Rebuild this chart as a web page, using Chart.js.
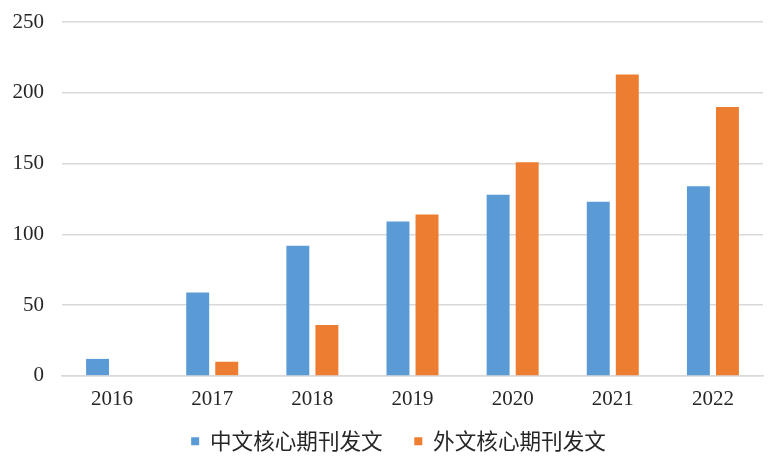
<!DOCTYPE html>
<html>
<head>
<meta charset="utf-8">
<script src="https://cdn.jsdelivr.net/npm/chart.js@4/dist/chart.umd.min.js"></script>
<style>
  html, body { margin: 0; padding: 0; background: #fff; }
  #wrap { width: 784px; height: 462px; }
</style>
</head>
<body>
<div id="wrap"><canvas id="chart"></canvas></div>
<script>
const years = ['2016', '2017', '2018', '2019', '2020', '2021', '2022'];
const cnCore = [12, 59, 92, 109, 128, 123, 134];
const enCore = [0, 10, 36, 114, 151, 213, 190];
const yTicks = [0, 50, 100, 150, 200, 250];

const serif = "'Liberation Serif', 'Noto Sans CJK SC', serif";

// nudge the legend a little to the right, like the original
const legendShift = {
    id: 'legendShift',
    afterLayout(chart) {
        chart.legend.left += 11;
        chart.legend.right += 11;
    }
};

new Chart(document.getElementById('chart'), {
    type: 'bar',
    data: {
        labels: years,
        datasets: [{
            label: '中文核心期刊发文',
            data: cnCore,
            backgroundColor: '#5b9bd5'
        }, {
            label: '外文核心期刊发文',
            data: enCore,
            backgroundColor: '#ed7d31'
        }]
    },
    options: {
        responsive: true,
        maintainAspectRatio: false,
        animation: false,
        categoryPercentage: 0.58,
        barPercentage: 0.79,
        layout: { padding: { left: 12, right: 21, top: 22, bottom: 0 } },
        plugins: {
            tooltip: { enabled: false },
            legend: {
                position: 'bottom',
                labels: {
                    boxWidth: 8,
                    boxHeight: 8,
                    padding: 10,
                    color: '#262626',
                    font: { family: "'Noto Sans CJK SC', sans-serif", size: 21.6 },
                    // extra space between the two legend items
                    generateLabels: chart => {
                        const items = Chart.defaults.plugins.legend.labels.generateLabels(chart);
                        items.forEach((it, i) => { if (i < items.length - 1) it.text += '\u3000'; });
                        return items;
                    }
                }
            }
        },
        scales: {
            x: {
                grid: { display: false, drawTicks: false },
                border: { color: '#d9d9d9', width: 1.5 },
                ticks: { color: '#262626', padding: 11, font: { family: serif, size: 21 } },
                afterFit: axis => {
                    axis.height = 44.5;
                    axis.paddingLeft = 0;
                    axis.paddingRight = 0;
                }
            },
            y: {
                min: 0,
                max: 250,
                afterBuildTicks: axis => { axis.ticks = yTicks.map(v => ({ value: v })); },
                grid: { color: '#d9d9d9', lineWidth: 1.5, drawTicks: false },
                border: { display: false },
                ticks: { color: '#262626', padding: 18, font: { family: serif, size: 21 } },
                afterFit: axis => {
                    axis.width = 50;
                    axis.paddingTop = 0;
                    axis.paddingBottom = 0;
                }
            }
        }
    },
    plugins: [legendShift]
});
</script>
</body>
</html>
